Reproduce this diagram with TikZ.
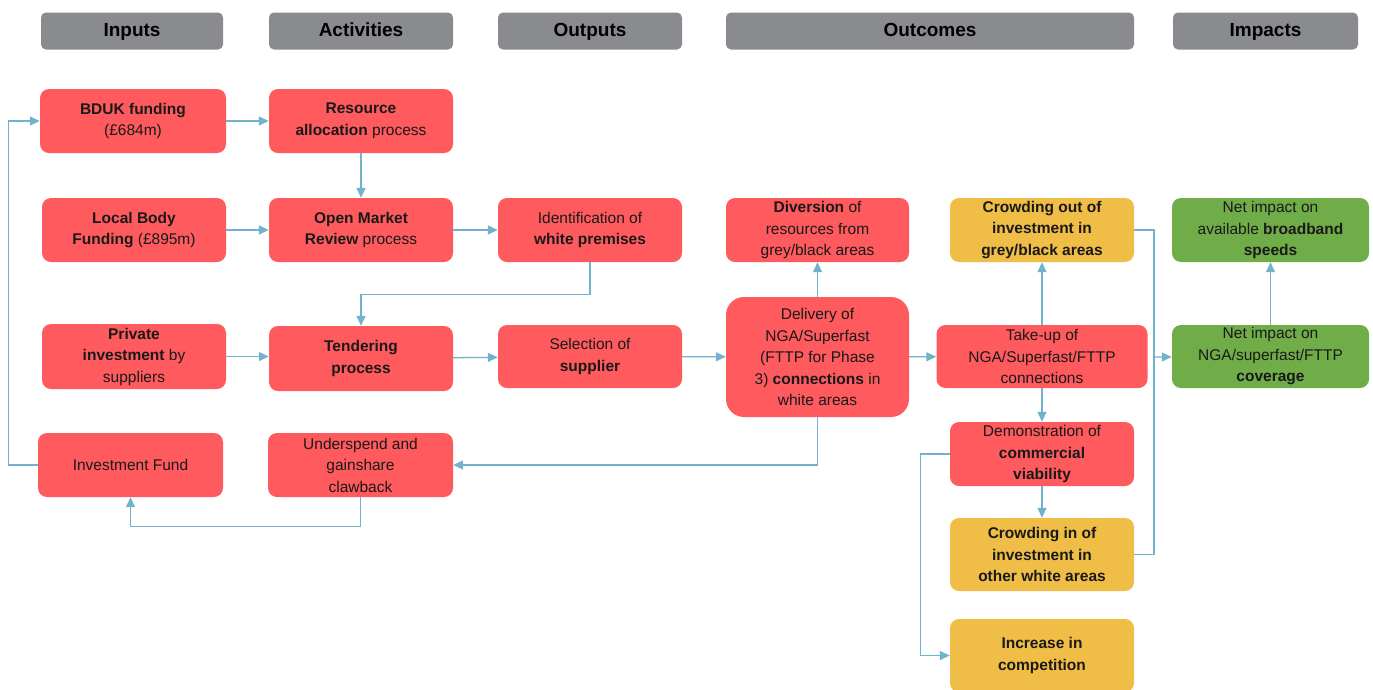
\documentclass[tikz,border=0pt]{standalone}
\usepackage{fontspec}
\setmainfont{Liberation Sans}
\usetikzlibrary{positioning, arrows.meta, calc}

\definecolor{boxred}{RGB}{255,90,94}
\definecolor{boxyellow}{RGB}{240,189,70}
\definecolor{boxgreen}{RGB}{112,172,72}
\definecolor{headgrey}{RGB}{137,139,142}
\definecolor{linkblue}{RGB}{114,178,204}

\begin{document}
\begin{tikzpicture}[
    x=1pt, y=-1pt,
    >={Triangle[length=10pt, width=9pt]},
    % Styles
    header/.style={ % Column titles
        rectangle,
        rounded corners=5pt,
        minimum height=37pt,
        text height=14pt,
        text depth=4pt,
        fill=headgrey,
        font=\fontsize{19}{22}\selectfont\bfseries
    },
    box/.style={ % Generic box
        rectangle,
        rounded corners=9pt,
        minimum width=184pt,
        minimum height=64pt,
        inner sep=2pt,
        align=center,
        text=black!90,
        font=\fontsize{15.5}{21.5}\selectfont
    },
    redbox/.style={box, fill=boxred},
    yellowbox/.style={box, fill=boxyellow, font=\fontsize{15.5}{21.5}\selectfont\bfseries},
    greenbox/.style={box, fill=boxgreen, minimum width=197pt},
    arrow/.style={ % Connectors
        ->,
        draw=linkblue,
        line width=1.3pt
    },
    link/.style={ % Connector without tip
        draw=linkblue,
        line width=1.3pt
    }
]

    \useasboundingbox (0,0) rectangle (1373,689);

    % Column headers
    \foreach \X/\W/\T [count=\i] in {132/182/Inputs, 361/184/Activities,
        590/184/Outputs, 930/408/Outcomes, 1265.5/185/Impacts} {
        \node[header, minimum width=\W pt] (h\i) at (\X,31) {\T};
    }

    % Inputs
    \node[redbox, minimum width=186pt] (bduk) at (133,121)
        {\textbf{BDUK funding}\\(£684m)};
    \node[redbox] (local) at (134,230)
        {\textbf{Local Body}\\\textbf{Funding} (£895m)};
    \node[redbox, minimum height=65pt] (private) at (134,356.5)
        {\textbf{Private}\\\textbf{investment} by\\suppliers};
    \node[redbox, minimum width=185pt] (invfund) at (130.5,465)
        {Investment Fund};

    % Activities
    \node[redbox] (alloc) at (361,121)
        {\textbf{Resource}\\\textbf{allocation} process};
    \node[redbox] (omr) at (361,230)
        {\textbf{Open Market}\\\textbf{Review} process};
    \node[redbox, minimum height=65pt] (tender) at (361,358.5)
        {\textbf{Tendering}\\\textbf{process}};
    \node[redbox, minimum width=185pt] (under) at (360.5,465)
        {Underspend and\\gainshare\\clawback};

    % Outputs
    \node[redbox] (ident) at (590,230)
        {Identification of\\\textbf{white premises}};
    \node[redbox, minimum height=63pt] (select) at (590,356.5)
        {Selection of\\\textbf{supplier}};

    % Outcomes
    \node[redbox, minimum width=183pt] (divert) at (817.5,230)
        {\textbf{Diversion} of\\resources from\\grey/black areas};
    \node[redbox, minimum width=183pt, minimum height=120pt,
        rounded corners=18pt] (deliver) at (817.5,357)
        {Delivery of\\NGA/Superfast\\(FTTP for Phase\\3) \textbf{connections} in\\white areas};
    \node[yellowbox] (crowdout) at (1042,230)
        {Crowding out of\\investment in\\grey/black areas};
    \node[redbox, minimum width=211pt, minimum height=63pt] (takeup) at (1042,356.5)
        {Take-up of\\NGA/Superfast/FTTP\\connections};
    \node[redbox] (demo) at (1042,454)
        {Demonstration of\\\textbf{commercial}\\\textbf{viability}};
    \node[yellowbox, minimum height=73pt] (crowdin) at (1042,554.5)
        {Crowding in of\\investment in\\other white areas};
    \node[yellowbox, minimum height=73pt] (compete) at (1042,655.5)
        {Increase in\\competition};

    % Impacts
    \node[greenbox] (speed) at (1270.5,230)
        {Net impact on\\available \textbf{broadband}\\\textbf{speeds}};
    \node[greenbox, minimum height=63pt] (cover) at (1270.5,356.5)
        {Net impact on\\NGA/superfast/FTTP\\\textbf{coverage}};

    % Straight arrows
    \draw[arrow] (bduk) -- (alloc);
    \draw[arrow] (local) -- (omr);
    \draw[arrow] (omr) -- (ident);
    \draw[arrow] (private.east) -- (tender.west |- private.east);
    \draw[arrow] (tender) -- (select);
    \draw[arrow] (select) -- (deliver);
    \draw[arrow] (deliver) -- (takeup);
    \draw[arrow] (alloc) -- (omr);
    \draw[arrow] (deliver) -- (divert);
    \draw[arrow] (takeup) -- (crowdout);
    \draw[arrow] (takeup) -- (demo);
    \draw[arrow] (demo) -- (crowdin);
    \draw[arrow] (cover) -- (speed);

    % Elbow arrows
    \draw[arrow] (ident.south) -- ++(0,32) -| (tender.north);
    \draw[arrow] (deliver.south) |- (under.east);
    \draw[arrow] (under.south) -- ++(0,29) -| (invfund.south);
    \draw[arrow] (invfund.west) -- ++(-29,0) |- (bduk.west);
    \draw[arrow] (demo.west) -- ++(-29,0) |- (compete.west);

    % Crowding effects merge into coverage
    \coordinate (merge) at (1154,357);
    \draw[link] (crowdout.east) -| (merge);
    \draw[link] (crowdin.east) -| (merge);
    \draw[arrow] (merge) -- (cover);
\end{tikzpicture}
\end{document}
